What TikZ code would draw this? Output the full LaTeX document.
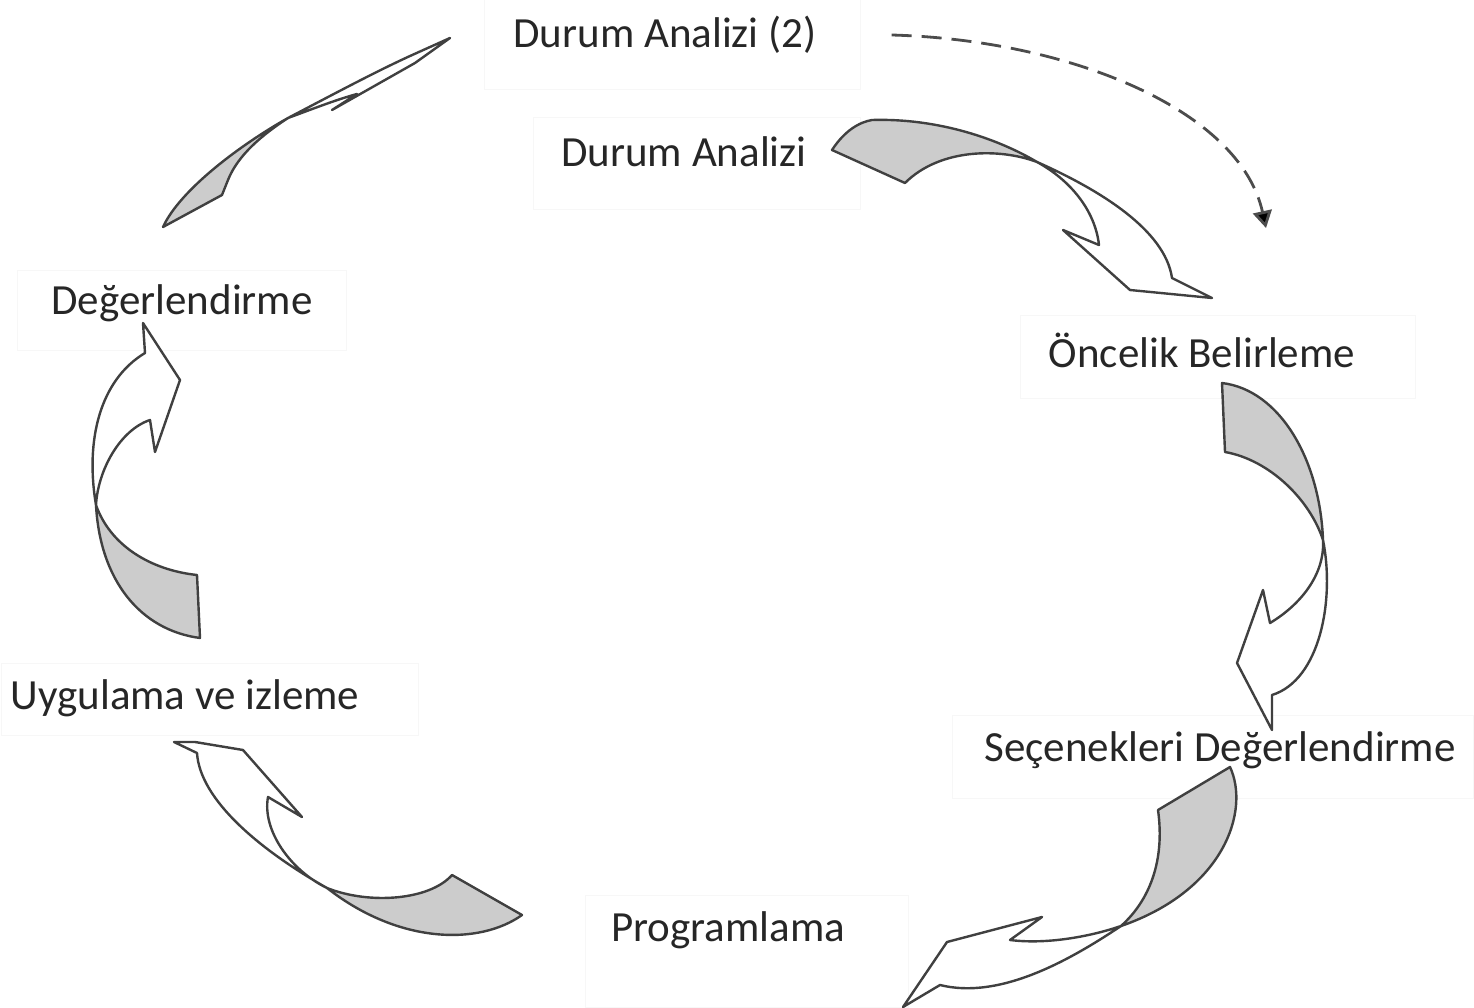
\documentclass[tikz,border=0pt]{standalone}
\usepackage{fontspec}
\setmainfont{Carlito}
\usetikzlibrary{arrows.meta}

\begin{document}
\begin{tikzpicture}[x=1pt,y=-1pt,
    lbl/.style={inner sep=0pt,text=black!85,font=\fontsize{43}{50}\selectfont},
    frame/.style={draw=black!3,line width=1pt},
    tail/.style={draw=black!75,line width=2.4pt,fill=black!20,line join=round},
    head/.style={draw=black!75,line width=2.4pt,fill=white,line join=round},
    flow/.style={draw=black!70,line width=2.8pt,dash pattern=on 20pt off 10pt,
                 -{Triangle[length=17pt,width=19pt,fill=black]}}]
  \useasboundingbox (0,0) rectangle (1474,1008);

  % faint text frames
  \draw[frame] (484,0) rectangle (860,90);
  \draw[frame] (533,118) rectangle (860,210);
  \draw[frame] (1020,315) rectangle (1415,398);
  \draw[frame] (952,715) rectangle (1473,798);
  \draw[frame] (585,895) rectangle (908,1007);
  \draw[frame] (1,663) rectangle (418,735);
  \draw[frame] (17,270) rectangle (346,350);

  % steps
  \node[lbl] (da2) at (665,35) {Durum Analizi (2)};
  \node[lbl] (da) at (684,152) {Durum Analizi};
  \node[lbl] (oncelik) at (1202,350) {Öncelik Belirleme};
  \node[lbl] (secenek) at (1220,750) {Seçenekleri Değerlendirme};
  \node[lbl] (prog) at (728,930) {Programlama};
  \node[lbl] (uyg) at (185,698) {Uygulama ve izleme};
  \node[lbl] (deger) at (182,303) {Değerlendirme};

  % Durum Analizi -> Oncelik Belirleme
  \draw[tail] (832,150) .. controls (845,130) and (860,122) .. (872,120)
    .. controls (940,118) and (1000,140) .. (1037,162)
    .. controls (1000,148) and (940,148) .. (905,183) -- cycle;
  \draw[head] (1037,162) .. controls (1100,190) and (1165,230) .. (1172,278)
    -- (1212,298) -- (1130,290) -- (1063,230) -- (1099,245)
    .. controls (1095,210) and (1070,180) .. (1037,162) -- cycle;

  % Oncelik Belirleme -> Secenekleri Degerlendirme
  \draw[tail] (1222,383) .. controls (1280,390) and (1320,460) .. (1323,540)
    .. controls (1310,500) and (1270,460) .. (1225,452) -- cycle;
  \draw[head] (1323,540) .. controls (1335,600) and (1320,680) .. (1272,695)
    -- (1272,730) -- (1237,663) -- (1263,590) -- (1270,623)
    .. controls (1300,605) and (1325,575) .. (1323,540) -- cycle;

  % Secenekleri Degerlendirme -> Programlama
  \draw[tail] (1230,767) .. controls (1250,810) and (1225,890) .. (1121,926)
    .. controls (1150,900) and (1165,860) .. (1158,810) -- cycle;
  \draw[head] (1121,926) .. controls (1070,960) and (1000,1000) .. (940,985)
    -- (903,1007) -- (947,942) -- (1042,917) -- (1010,940)
    .. controls (1050,945) and (1095,935) .. (1121,926) -- cycle;

  % Programlama -> Uygulama ve izleme
  \draw[tail] (522,915) .. controls (480,945) and (400,945) .. (327,888)
    .. controls (370,905) and (430,900) .. (452,875) -- cycle;
  \draw[head] (327,888) .. controls (260,850) and (200,800) .. (197,753)
    -- (174,742) -- (195,742) -- (243,750) -- (302,817) -- (268,797)
    .. controls (262,830) and (290,870) .. (327,888) -- cycle;

  % Uygulama ve izleme -> Degerlendirme
  \draw[tail] (200,638) .. controls (140,630) and (100,580) .. (96,505)
    .. controls (110,545) and (150,570) .. (197,575) -- cycle;
  \draw[head] (96,505) .. controls (85,440) and (100,380) .. (145,353)
    -- (143,323) -- (180,380) -- (155,452) -- (150,420)
    .. controls (120,430) and (98,470) .. (96,505) -- cycle;

  % Degerlendirme -> Durum Analizi (2)
  \draw[tail] (163,227) .. controls (180,190) and (240,145) .. (288,118)
    .. controls (262,135) and (238,155) .. (228,180) -- (222,195) -- cycle;
  \draw[head] (288,118) .. controls (330,96) and (375,72) .. (410,56)
    -- (450,38) -- (415,63) -- (332,110) -- (357,94)
    .. controls (335,100) and (310,110) .. (288,118) -- cycle;

  % dashed return
  \coordinate (dend) at (1266,228);
  \draw[flow] ([xshift=75pt]da2.east) .. controls (1070,40) and (1240,110) .. (dend);
\end{tikzpicture}
\end{document}
